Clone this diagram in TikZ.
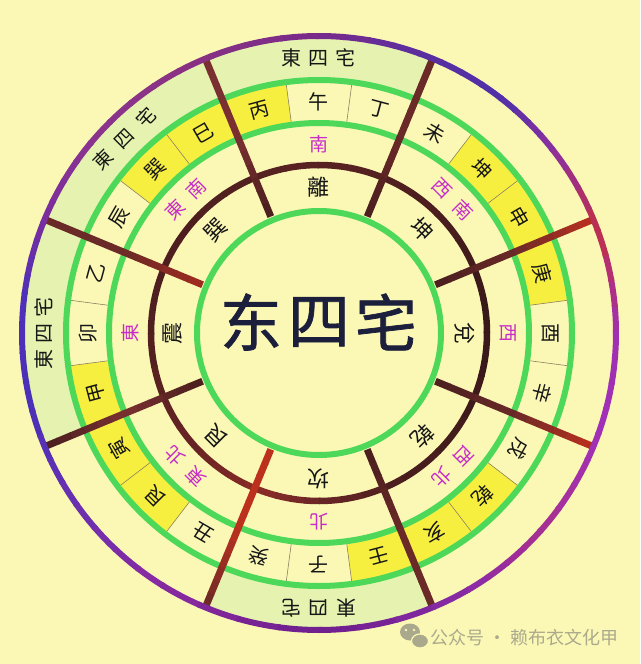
\documentclass[tikz,border=0pt]{standalone}
\usepackage{fontspec}
\newfontfamily\cjk{Noto Sans CJK TC}
\newfontfamily\cjkbig[FakeBold=1.2]{Noto Sans CJK SC}
\newfontfamily\cjksc{Noto Sans CJK SC}
\definecolor{bg}{HTML}{FBF8B6}
\definecolor{bandgreen}{HTML}{E6F3B0}
\definecolor{cellyellow}{HTML}{F7EF40}
\definecolor{ringgreen}{HTML}{4ED85A}
\definecolor{dividerline}{HTML}{8C8060}
\definecolor{dirmag}{HTML}{C82CC8}
\definecolor{inktext}{HTML}{161616}
\definecolor{centerink}{HTML}{1C1F3C}
\definecolor{markgray}{HTML}{ABA98C}
% spoke colours
\definecolor{sDark}{HTML}{4A1E1E}
\definecolor{sBrown}{HTML}{6A2A28}
\definecolor{sMid}{HTML}{7A3030}
\definecolor{sRed}{HTML}{BC301E}
\definecolor{sRedB}{HTML}{A02A1E}
% purple ring key colours
\definecolor{pa}{HTML}{A030B0}
\definecolor{pb}{HTML}{C03048}
\definecolor{pc}{HTML}{8C30A0}
\definecolor{pd}{HTML}{5030A8}
\definecolor{pe}{HTML}{5A2EA0}
\definecolor{pf}{HTML}{782A8A}
\definecolor{pg}{HTML}{8A3282}
\definecolor{ph}{HTML}{8A3490}
\definecolor{pi}{HTML}{7A2E9E}
\definecolor{pj}{HTML}{5030B8}
\definecolor{pk}{HTML}{4A30B8}
\definecolor{pl}{HTML}{6A30B0}
\definecolor{pm}{HTML}{8A2AA0}
\definecolor{pn}{HTML}{6C1E8C}
\definecolor{po}{HTML}{8A2CA8}
\definecolor{pp}{HTML}{A83090}
\definecolor{pq}{HTML}{A030B8}
% brown ring key colours
\definecolor{ba}{HTML}{361818}
\definecolor{bb}{HTML}{4A1E1E}
\definecolor{bc}{HTML}{5A2222}
\definecolor{bd}{HTML}{4E1E1E}
\definecolor{be}{HTML}{502020}
\definecolor{bf}{HTML}{6A2424}
\definecolor{bgg}{HTML}{8A2C26}
\definecolor{bh}{HTML}{6A2626}
\definecolor{bi}{HTML}{4A1E1E}
\begin{document}
\begin{tikzpicture}[x=1pt,y=1pt,
  spoke/.style={line width=7pt, line cap=butt},
  lbl/.style={inner sep=0pt, text=inktext, font=\cjk\fontsize{20}{20}\selectfont},
  trig/.style={inner sep=0pt, text=inktext, font=\cjk\fontsize{22}{22}\selectfont},
  dirl/.style={inner sep=0pt, text=dirmag, font=\cjk\fontsize{19}{19}\selectfont},
  house/.style={inner sep=0pt, text=inktext, font=\cjk\fontsize{20}{20}\selectfont},
  bigt/.style={inner sep=0pt, text=centerink, font=\cjkbig\fontsize{62}{62}\selectfont},
  wmtext/.style={inner sep=0pt, text=markgray, font=\cjksc\fontsize{18}{18}\selectfont}]
\fill[bg] (-319,-331) rectangle (321,333);
\useasboundingbox (-319,-331) rectangle (321,333);

% light green outer bands (East group sectors)
\foreach \c in {90,135,180,270}{
  \fill[bandgreen] ({\c-22.5}:297) arc[start angle=\c-22.5, end angle=\c+22.5, radius=297]
    -- ({\c+22.5}:253) arc[start angle=\c+22.5, end angle=\c-22.5, radius=253] -- cycle;
}
% yellow cells in the 24 mountain ring
\foreach \t in {105,120,135,195,210,225,285,300,315,45,30,15}{
  \fill[cellyellow] ({\t-7.5}:253) arc[start angle=\t-7.5, end angle=\t+7.5, radius=253]
    -- ({\t+7.5}:210) arc[start angle=\t+7.5, end angle=\t-7.5, radius=210] -- cycle;
}
% thin dividers
\foreach \k in {0,...,23}{
  \pgfmathtruncatemacro\m{mod(\k,3)}
  \ifnum\m=1\relax\else
    \pgfmathsetmacro\ang{7.5+15*\k}
    \draw[dividerline, line width=0.6pt] (\ang:213) -- (\ang:250);
  \fi
}
% green rings
\draw[ringgreen, line width=6pt] (0,0) circle[radius=122];
\draw[ringgreen, line width=6pt] (0,0) circle[radius=210];
\draw[ringgreen, line width=6pt] (0,0) circle[radius=253];
% brown ring (shaded by segments)
\foreach \a/\b/\ca/\cb in {0/45/ba/bb,45/90/bb/bc,90/135/bc/bd,135/180/bd/be,180/225/be/bf,225/250/bf/bgg,250/270/bgg/bh,270/300/bh/bi,300/360/bi/ba}{
  \foreach \i in {0,...,3}{
    \pgfmathsetmacro\s{\a+\i*(\b-\a)/4}
    \pgfmathsetmacro\e{\a+(\i+1)*(\b-\a)/4+0.5}
    \pgfmathtruncatemacro\p{(\i+0.5)*25}
    \draw[line width=6.5pt, color=\cb!\p!\ca] (\s:168) arc[start angle=\s, end angle=\e, radius=168];
  }
}
% spokes
\foreach \a/\ci/\cm/\co in {112.5/sDark/sMid/sMid, 67.5/sDark/sBrown/sBrown, 22.5/sDark/sBrown/sRed, -22.5/sDark/sBrown/sRed, -67.5/sDark/sBrown/sBrown, 247.5/sRed/sRed/sBrown, 202.5/sDark/sMid/sDark, 157.5/sRedB/sBrown/sBrown}{
  \foreach \i in {0,...,5}{
    \pgfmathsetmacro\ra{126+\i*85/6}
    \pgfmathsetmacro\rb{126+(\i+1)*85/6+1}
    \pgfmathtruncatemacro\p{(\i+0.5)*100/6}
    \draw[spoke, color=\cm!\p!\ci] (\a:\ra) -- (\a:\rb);
    \pgfmathsetmacro\rc{211+\i*85/6}
    \pgfmathsetmacro\rd{211+(\i+1)*85/6+1}
    \draw[spoke, color=\co!\p!\cm] (\a:\rc) -- (\a:\rd);
  }
}
% purple outer ring (shaded by segments)
\foreach \a/\b/\ca/\cb in {0/20/pa/pb,20/38/pb/pc,38/52/pc/pd,52/70/pd/pe,70/90/pe/pf,90/118/pf/pg,118/140/pg/ph,140/158/ph/pi,158/172/pi/pj,172/195/pj/pk,195/215/pk/pl,215/238/pl/pm,238/270/pm/pn,270/300/pn/po,300/318/po/pp,318/340/pp/pq,340/360/pq/pa}{
  \foreach \i in {0,...,3}{
    \pgfmathsetmacro\s{\a+\i*(\b-\a)/4}
    \pgfmathsetmacro\e{\a+(\i+1)*(\b-\a)/4+0.5}
    \pgfmathtruncatemacro\p{(\i+0.5)*25}
    \draw[line width=6pt, color=\cb!\p!\ca] (\s:297) arc[start angle=\s, end angle=\e, radius=297];
  }
}

% 24 mountains
\foreach \t/\ch in {90/午,105/丙,120/巳,135/巽,150/辰,165/乙,180/卯,195/甲,210/寅,225/艮,240/丑,255/癸,270/子,285/壬,300/亥,315/乾,330/戌,345/辛,0/酉,15/庚,30/申,45/坤,60/未,75/丁}{
  \node[lbl, rotate=\t-90] (m\t) at (\t:231) {\ch};
}
% directions (single character)
\foreach \t/\ch in {90/南,180/東,270/北,0/西}{
  \node[dirl, rotate=\t-90] (d\t) at (\t:189) {\ch};
}
% directions (two characters, one node each)
\foreach \t/\fa/\fb in {135/東/南,225/東/北,315/西/北,45/西/南}{
  \begin{scope}[rotate=\t-90]
    \node[dirl, rotate=\t-90] (d\t-a) at (-15,189) {\fa};
    \node[dirl, rotate=\t-90] (d\t-b) at (15,189) {\fb};
  \end{scope}
}
% trigrams
\foreach \t/\ch in {90/離,135/巽,180/震,225/艮,270/坎,315/乾,0/兌,45/坤}{
  \node[trig, rotate=\t-90] (g\t) at (\t:146) {\ch};
}
% East-four-house labels
\foreach \t/\d/\fs in {90/27/20,135/30/19,180/26/20,270/27/20}{
  \begin{scope}[rotate=\t-90]
    \node[house, font=\cjk\fontsize{\fs}{\fs}\selectfont, rotate=\t-90] (h\t-a) at (-\d,275) {東};
    \node[house, font=\cjk\fontsize{\fs}{\fs}\selectfont, rotate=\t-90] (h\t-b) at (0,275) {四};
    \node[house, font=\cjk\fontsize{\fs}{\fs}\selectfont, rotate=\t-90] (h\t-c) at (\d,275) {宅};
  \end{scope}
}
% centre
\node[bigt] (c1) at (-68,11) {东};
\node[bigt] (c2) at (0,11) {四};
\node[bigt] (c3) at (67,11) {宅};

% watermark
\fill[markgray] (91,-299) ellipse[x radius=10, y radius=8.5];
\filldraw[fill=markgray, draw=bg, line width=1.2pt] (101,-308) ellipse[x radius=8.5, y radius=7];
\fill[bg] (87,-297) circle[radius=1.3];
\fill[bg] (95,-297) circle[radius=1.3];
\node[wmtext, anchor=west] (wm) at (111,-305) {公众号 · 赖布衣文化甲};
\end{tikzpicture}
\end{document}
